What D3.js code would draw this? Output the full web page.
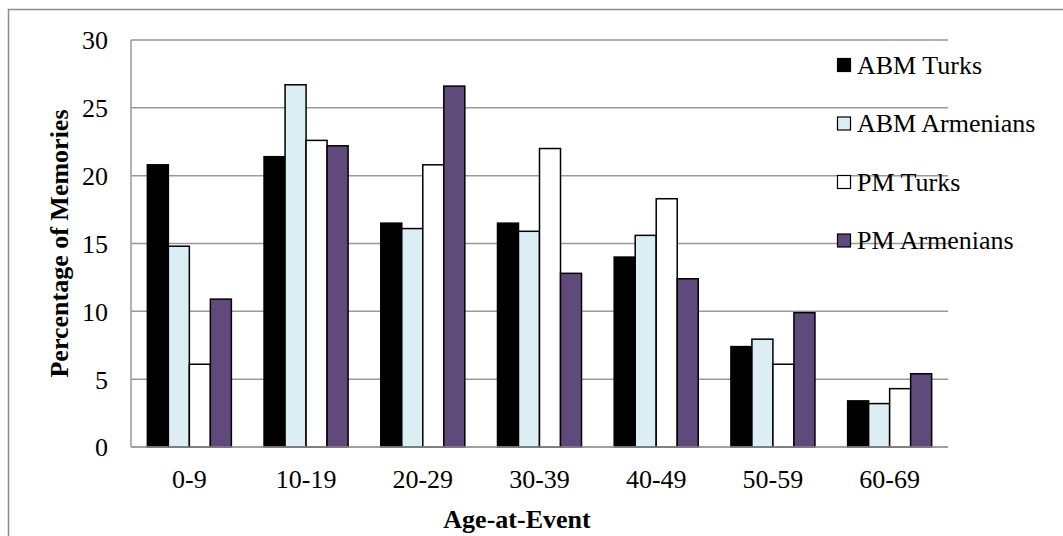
<!DOCTYPE html>
<html>
<head>
<meta charset="utf-8">
<script src="https://cdn.jsdelivr.net/npm/d3@7"></script>
<style>
  html, body { margin: 0; padding: 0; background: #fff; }
  svg { display: block; }
  svg text { font-family: "Liberation Serif", "Times New Roman", serif !important; fill: #000; }
</style>
</head>
<body>
<svg id="chart" width="1063" height="536"></svg>
<script>
const categories = ["0-9", "10-19", "20-29", "30-39", "40-49", "50-59", "60-69"];
const seriesNames = ["ABM Turks", "ABM Armenians", "PM Turks", "PM Armenians"];
const abmTurks     = [20.8, 21.4, 16.5, 16.5, 14.0, 7.4, 3.4];
const abmArmenians = [14.8, 26.7, 16.1, 15.9, 15.6, 7.95, 3.2];
const pmTurks      = [6.1, 22.6, 20.8, 22.0, 18.3, 6.1, 4.3];
const pmArmenians  = [10.9, 22.2, 26.6, 12.8, 12.4, 9.9, 5.4];
const yTicks = [0, 5, 10, 15, 20, 25, 30];
const colors = ["#000000", "#DAEEF3", "#FFFFFF", "#604A7B"];

const seriesValues = [abmTurks, abmArmenians, pmTurks, pmArmenians];
const FONT = "'Liberation Serif', 'Times New Roman', serif";

const svg = d3.select("#chart");

// outer chart border
svg.append("rect")
  .attr("x", 8.5).attr("y", 9.5)
  .attr("width", 1200).attr("height", 700)
  .attr("fill", "#fff").attr("stroke", "#8c8c8c").attr("stroke-width", 1.5);

const plot = { left: 131, right: 948, top: 40, bottom: 447 };

const y = d3.scaleLinear().domain([0, 30]).range([plot.bottom, plot.top]);
const x0 = d3.scaleBand().domain(categories)
  .range([plot.left, plot.right]).paddingInner(0.28).paddingOuter(0.14);
const x1 = d3.scaleBand().domain(seriesNames).range([0, x0.bandwidth()]).padding(0);

// gridlines
svg.append("g").selectAll("line").data(yTicks).join("line")
  .attr("x1", plot.left).attr("x2", plot.right)
  .attr("y1", d => y(d)).attr("y2", d => y(d))
  .attr("stroke", "#999").attr("stroke-width", 1.5);

// vertical axis line
svg.append("line")
  .attr("x1", plot.left).attr("x2", plot.left)
  .attr("y1", plot.top).attr("y2", plot.bottom)
  .attr("stroke", "#999").attr("stroke-width", 1.5);

// y tick labels via axis
const yAxis = d3.axisLeft(y).tickValues(yTicks).tickSize(0).tickPadding(0);
const yg = svg.append("g").attr("transform", `translate(${plot.left - 23},0)`).call(yAxis)
  .attr("font-family", FONT).attr("font-size", 26);
yg.select(".domain").remove();
yg.selectAll("text")
  .style("font-family", FONT).style("font-size", "26px")
  .attr("fill", "#000").attr("dy", "0.34em");

// bars
const groups = svg.append("g").selectAll("g").data(categories).join("g")
  .attr("transform", d => `translate(${x0(d)},0)`);
groups.selectAll("rect")
  .data((c, i) => seriesNames.map((s, k) => ({ s, k, v: seriesValues[k][i] })))
  .join("rect")
  .attr("x", d => x1(d.s))
  .attr("width", x1.bandwidth())
  .attr("y", d => y(d.v))
  .attr("height", d => y(0) - y(d.v))
  .attr("fill", d => colors[d.k])
  .attr("stroke", "#000").attr("stroke-width", 1.5);

// x tick labels via axis
const xAxis = d3.axisBottom(x0).tickSize(0).tickPadding(0);
const xg = svg.append("g").attr("transform", `translate(0,${plot.bottom + 41})`).call(xAxis)
  .attr("font-family", FONT).attr("font-size", 26);
xg.select(".domain").remove();
xg.selectAll("text")
  .style("font-family", FONT).style("font-size", "26px")
  .attr("fill", "#000").attr("dy", 0);

// redraw baseline gridline on top
svg.append("line")
  .attr("x1", plot.left).attr("x2", plot.right)
  .attr("y1", y(0)).attr("y2", y(0))
  .attr("stroke", "#999").attr("stroke-width", 1.5);

// axis titles
svg.append("text")
  .attr("x", 517).attr("y", 528)
  .attr("text-anchor", "middle").style("font-size", "26px").attr("font-weight", "bold")
  .text("Age-at-Event");

svg.append("text")
  .attr("transform", `translate(68,${(plot.top + plot.bottom) / 2}) rotate(-90)`)
  .attr("text-anchor", "middle").style("font-size", "26px").attr("font-weight", "bold")
  .text("Percentage of Memories");

// legend
const legend = svg.append("g").selectAll("g").data(seriesNames).join("g")
  .attr("transform", (d, i) => `translate(837,${65 + i * 58.5})`);
legend.append("rect")
  .attr("x", 0.5).attr("y", -6.5).attr("width", 13).attr("height", 13)
  .attr("fill", (d, i) => colors[i]).attr("stroke", "#000").attr("stroke-width", 1.2);
legend.append("text")
  .attr("x", 20).attr("y", 8.5)
  .style("font-size", "26px")
  .text(d => d);
</script>
</body>
</html>
